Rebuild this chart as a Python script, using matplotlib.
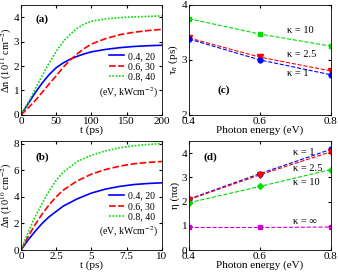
import numpy as np
import matplotlib.pyplot as plt

plt.rcParams['font.family'] = ['Liberation Serif', 'DejaVu Serif']
plt.rcParams['mathtext.fontset'] = 'stix'

# (a) long time scale, t in ps
t_a = [0, 10, 20, 30, 40, 50, 60, 70, 80, 90, 100, 120, 140, 160, 180, 200]
blue_a = [0, 0.45, 0.9, 1.3, 1.65, 1.93, 2.13, 2.28, 2.4, 2.5, 2.58, 2.68, 2.75, 2.8, 2.83, 2.85]
red_a = [0, 0.28, 0.58, 0.92, 1.27, 1.6, 1.95, 2.25, 2.5, 2.72, 2.9, 3.12, 3.28, 3.38, 3.45, 3.5]
green_a = [0, 0.5, 1.05, 1.6, 2.12, 2.6, 3.0, 3.3, 3.55, 3.72, 3.83, 3.93, 3.98, 4.01, 4.03, 4.05]

# (b) short time scale, t in ps
t_b = [0, 0.5, 1, 1.5, 2, 2.5, 3, 4, 5, 6, 7, 8, 9, 10]
blue_b = [0, 0.75, 1.4, 2.0, 2.5, 2.9, 3.3, 3.85, 4.28, 4.58, 4.78, 4.92, 5.0, 5.05]
red_b = [0, 1.0, 1.9, 2.7, 3.4, 4.0, 4.5, 5.2, 5.7, 6.05, 6.3, 6.48, 6.58, 6.65]
green_b = [0, 1.3, 2.5, 3.5, 4.45, 5.25, 5.85, 6.65, 7.12, 7.45, 7.68, 7.83, 7.93, 8.0]

legend_labels = ['0.4, 20', '0.6, 30', '0.8, 40']

# (c), (d) vs photon energy
energy = [0.4, 0.6, 0.8]
tau_k1 = [3.38, 3.0, 2.73]
tau_k25 = [3.4, 3.05, 2.8]
tau_k10 = [3.75, 3.47, 3.25]
eta_k1 = [2.1, 3.15, 4.15]
eta_k25 = [2.08, 3.1, 4.05]
eta_k10 = [1.95, 2.62, 3.32]
eta_kinf = [0.93, 0.93, 0.95]

fig = plt.figure(figsize=(3.38, 2.73), dpi=100)
ax_a = fig.add_axes([0.062, 0.579, 0.417, 0.403])
ax_c = fig.add_axes([0.559, 0.579, 0.42, 0.403])
ax_b = fig.add_axes([0.062, 0.084, 0.417, 0.400])
ax_d = fig.add_axes([0.559, 0.084, 0.42, 0.400])

fs = 8
for ax in [ax_a, ax_b, ax_c, ax_d]:
    ax.tick_params(direction='in', top=True, right=True, labelsize=fs, length=2.5, pad=1.2)
    for s in ax.spines.values():
        s.set_linewidth(0.6)

def growth(ax, t, b, r, g, leg_y, cap_y):
    ax.plot(t, b, color='#0000ff', lw=1.2, label=legend_labels[0])
    ax.plot(t, r, color='#ff0000', lw=1.2, ls=(0, (4, 1.5)), label=legend_labels[1])
    ax.plot(t, g, color='#00dd00', lw=1.2, ls=(0, (1, 1)), label=legend_labels[2])
    ax.legend(loc='lower right', bbox_to_anchor=(1.0, leg_y), frameon=False, fontsize=7,
              handlelength=1.6, labelspacing=0.15, handletextpad=0.4, borderpad=0.2)
    ax.text(0.97, cap_y, '(eV, kWcm$^{-2}$)', transform=ax.transAxes, ha='right', va='center', fontsize=7)

growth(ax_a, t_a, blue_a, red_a, green_a, 0.24, 0.2)
ax_a.set_xlim(0, 200)
ax_a.set_ylim(0, 4.5)
ax_a.set_xticks([0, 50, 100, 150, 200])
ax_a.set_yticks([0, 1, 2, 3, 4])
ax_a.set_xlabel('t (ps)', fontsize=fs, labelpad=0)
ax_a.set_ylabel('Δn (10$^{11}$ cm$^{-2}$)', fontsize=7.5)
ax_a.yaxis.set_label_coords(-0.048, 0.5)
ax_a.text(0.1, 0.85, '(a)', transform=ax_a.transAxes, fontsize=fs, fontweight='bold')

growth(ax_b, t_b, blue_b, red_b, green_b, 0.2, 0.165)
ax_b.set_xlim(0, 10)
ax_b.set_ylim(0, 8.2)
ax_b.set_xticks([0, 2.5, 5, 7.5, 10])
ax_b.set_xticklabels(['0', '2.5', '5', '7.5', '10'])
ax_b.set_yticks([0, 2, 4, 6, 8])
ax_b.set_xlabel('t (ps)', fontsize=fs, labelpad=0)
ax_b.set_ylabel('Δn (10$^{10}$ cm$^{-2}$)', fontsize=7.5)
ax_b.yaxis.set_label_coords(-0.048, 0.5)
ax_b.text(0.1, 0.83, '(b)', transform=ax_b.transAxes, fontsize=fs, fontweight='bold')

ax_c.plot(energy, tau_k10, color='#00dd00', ls='--', lw=0.8, marker='s', ms=3.5)
ax_c.plot(energy, tau_k25, color='#ff0000', ls='--', lw=0.8, marker='v', ms=4)
ax_c.plot(energy, tau_k1, color='#0000ff', ls='--', lw=0.8, marker='o', ms=3.5)
ax_c.set_xlim(0.4, 0.8)
ax_c.set_ylim(2, 4)
ax_c.set_xticks([0.4, 0.6, 0.8])
ax_c.set_yticks([2, 3, 4])
ax_c.set_xlabel('Photon energy (eV)', fontsize=fs, labelpad=0)
ax_c.set_ylabel('τ$_n$ (ps)', fontsize=fs)
ax_c.yaxis.set_label_coords(-0.063, 0.5)
ax_c.text(0.675, 3.53, 'κ = 10', fontsize=7.5, va='center')
ax_c.text(0.675, 3.09, 'κ = 2.5', fontsize=7.5, va='center')
ax_c.text(0.675, 2.76, 'κ = 1', fontsize=7.5, va='center')
ax_c.text(0.2, 0.2, '(c)', transform=ax_c.transAxes, fontsize=fs, fontweight='bold')

ax_d.plot(energy, eta_k1, color='#0000ff', ls='--', lw=0.8, marker='o', ms=3.5)
ax_d.plot(energy, eta_k25, color='#ff0000', ls='--', lw=0.8, marker='v', ms=4)
ax_d.plot(energy, eta_k10, color='#00dd00', ls='--', lw=0.8, marker='D', ms=3)
ax_d.plot(energy, eta_kinf, color='#cc00cc', ls='--', lw=0.8, marker='s', ms=3.5)
ax_d.set_xlim(0.4, 0.8)
ax_d.set_ylim(0, 4.5)
ax_d.set_xticks([0.4, 0.6, 0.8])
ax_d.set_yticks([0, 1, 2, 3, 4])
ax_d.set_xlabel('Photon energy (eV)', fontsize=fs, labelpad=0)
ax_d.set_ylabel('η (πα)', fontsize=fs)
ax_d.yaxis.set_label_coords(-0.063, 0.5)
ax_d.text(0.693, 4.02, 'κ = 1', fontsize=7.5, va='center')
ax_d.text(0.693, 3.38, 'κ = 2.5', fontsize=7.5, va='center')
ax_d.text(0.693, 2.78, 'κ = 10', fontsize=7.5, va='center')
ax_d.text(0.693, 1.18, 'κ = ∞', fontsize=7.5, va='center')
ax_d.text(0.1, 0.83, '(d)', transform=ax_d.transAxes, fontsize=fs, fontweight='bold')

fig.savefig('out.png', dpi=100)
